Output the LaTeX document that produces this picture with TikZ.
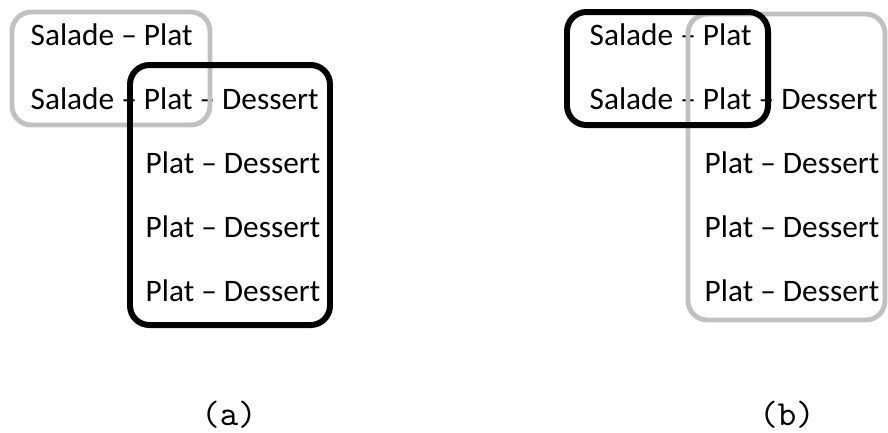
\documentclass[tikz,border=0pt]{standalone}
\usepackage{fontspec}
\setmainfont{Carlito}

\definecolor{boxgray}{RGB}{192,192,192}

\tikzset{
	menu/.style={anchor=base west,inner sep=0pt,font=\fontsize{8.9}{10}\selectfont},
	graybox/.style={draw=boxgray,line width=1.4pt,rounded corners=5.5pt},
	blackbox/.style={draw=black,line width=1.7pt,rounded corners=5.5pt},
	caption/.style={inner sep=0pt,font=\ttfamily\fontsize{10}{11}\selectfont}
}

\begin{document}
\begin{tikzpicture}[x=0.01cm,y=-0.01cm]
			\useasboundingbox (0,0) rectangle (888,432);
			% (a)
			\node[menu] (a1) at (30,45) {Salade -- Plat};
			\node[menu] (a2) at (30,109) {Salade -- Plat -- Dessert};
			\node[menu] (a3) at (145,173) {Plat -- Dessert};
			\node[menu] (a4) at (145,237) {Plat -- Dessert};
			\node[menu] (a5) at (145,301) {Plat -- Dessert};
			\draw[graybox] (12,12) rectangle (210,125);
			\draw[blackbox] (130,65) rectangle (330,325);
			\node[caption] (capa) at (229,415) {(a)};
			% (b)
			\node[menu] (b1) at (589,45) {Salade -- Plat};
			\node[menu] (b2) at (589,109) {Salade -- Plat -- Dessert};
			\node[menu] (b3) at (704,173) {Plat -- Dessert};
			\node[menu] (b4) at (704,237) {Plat -- Dessert};
			\node[menu] (b5) at (704,301) {Plat -- Dessert};
			\draw[graybox] (688,14) rectangle (885,320);
			\draw[blackbox] (567,12) rectangle (768,125);
			\node[caption] (capb) at (787,415) {(b)};
		\end{tikzpicture}
\end{document}
